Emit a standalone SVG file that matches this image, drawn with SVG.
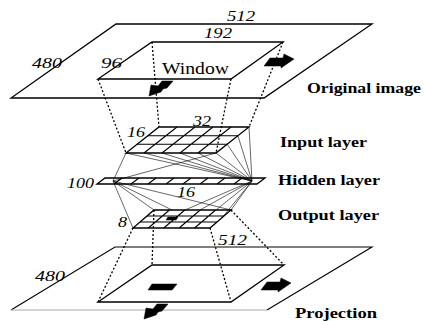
<svg xmlns="http://www.w3.org/2000/svg" width="424" height="321" viewBox="0 0 424 321">
<style>
.pl{fill:#fff;stroke:#000;stroke-width:1.3;stroke-linejoin:miter}
.gr{fill:none;stroke:#000;stroke-width:1.1}
.dot{fill:none;stroke:#000;stroke-width:1.3;stroke-dasharray:2 2}
.fan{fill:none;stroke:#000;stroke-width:0.6}
.blk{fill:#000;stroke:#000;stroke-width:0.5}
.num{font-family:"Liberation Serif",serif;font-style:italic;font-size:15px;fill:#000}
.lbl{font-family:"Liberation Serif",serif;font-weight:bold;font-size:15px;fill:#000}
.win{font-family:"Liberation Serif",serif;font-size:17px;fill:#000}
</style>
<defs>
<polygon id="arrR" points="264,66 270,58 283,58 284,54 294,59 281,68 281,66"/>
<polygon id="arrDL" points="173,81 162,81 158,86 151,85 149,96 161,92 163,89 167,88"/>
</defs>

<g id="original-image">
<polygon class="pl" points="116,24 372,24 264,98 11,98"/>
<text class="num" x="227" y="21" textLength="28" lengthAdjust="spacingAndGlyphs">512</text>
<text class="num" x="32" y="68" textLength="30" lengthAdjust="spacingAndGlyphs">480</text>
<text class="lbl" x="307" y="93" textLength="114" lengthAdjust="spacingAndGlyphs">Original image</text>
</g>

<g id="window">
<polygon class="pl" points="152,42 283,42 231,79 98,79"/>
<text class="num" x="204" y="38" textLength="28" lengthAdjust="spacingAndGlyphs">192</text>
<text class="num" x="101" y="68" textLength="21" lengthAdjust="spacingAndGlyphs">96</text>
<text class="win" x="162" y="74" textLength="67" lengthAdjust="spacingAndGlyphs">Window</text>
</g>

<g id="projection">
<polygon fill="#fff" stroke="none" points="115,247 372,247 267,310 11,310"/>
<polyline class="gr" stroke-width="1.3" points="11,310 115,247 372,247 267,310"/>
<line x1="11" y1="310" x2="267" y2="310" stroke="#aaa" stroke-width="1"/>
<text class="num" x="218" y="245" textLength="29" lengthAdjust="spacingAndGlyphs">512</text>
<text class="num" x="35" y="281" textLength="30" lengthAdjust="spacingAndGlyphs">480</text>
<text class="lbl" x="295" y="318" textLength="82" lengthAdjust="spacingAndGlyphs">Projection</text>
</g>

<g id="projection-window">
<polygon class="pl" points="152,265 284,265 231,302 98,302"/>
<polygon class="blk" points="152,284 177,284 172,290 148,290"/>
</g>

<g id="input-layer">
<polygon class="pl" points="159,127 249,127 216,153 126,153"/>
<path class="gr" d="M148,135.7 H238 M137,144.3 H227 M177,127 L144,153 M195,127 L162,153 M213,127 L180,153 M231,127 L198,153"/>
<text class="num" x="127" y="137" textLength="18" lengthAdjust="spacingAndGlyphs">16</text>
<text class="num" x="193" y="126" textLength="18" lengthAdjust="spacingAndGlyphs">32</text>
<text class="lbl" x="280" y="147" textLength="87" lengthAdjust="spacingAndGlyphs">Input layer</text>
</g>

<g id="hidden-layer">
<polygon class="pl" points="105,178 265,178 257,184 97,184"/>
<path class="gr" d="M122,178 L114,184 M139,178 L131,184 M156,178 L148,184 M174,178 L166,184 M191,178 L183,184 M208,178 L200,184 M225,178 L217,184 M242,178 L234,184"/>
<text class="num" x="67" y="188" textLength="27" lengthAdjust="spacingAndGlyphs">100</text>
<text class="lbl" x="278" y="185" textLength="102" lengthAdjust="spacingAndGlyphs">Hidden layer</text>
</g>

<g id="output-layer">
<polygon class="pl" points="154,210 231,210 210,228 133,228"/>
<path class="gr" d="M147,216 H224 M140,222 H217 M169.4,210 L148.4,228 M184.8,210 L163.8,228 M200.2,210 L179.2,228 M215.6,210 L194.6,228"/>
<polygon class="blk" points="168,217 178,217 176,220 166,220"/>
<text class="num" x="177" y="197" textLength="18" lengthAdjust="spacingAndGlyphs">16</text>
<text class="num" x="118" y="227" textLength="9" lengthAdjust="spacingAndGlyphs">8</text>
<text class="lbl" x="278" y="220" textLength="101" lengthAdjust="spacingAndGlyphs">Output layer</text>
</g>

<g id="connectors">
<path class="dot" d="M98,79 L126,153 M152,42 L159,127 M231,79 L216,153 M283,42 L249,127"/>
<path class="dot" d="M133,228 L98,302 M154,210 L152,265 M231,210 L284,265 M210,228 L231,302"/>
<path class="fan" d="M126,153 L252,181 M144,153 L252,181 M162,153 L252,181 M180,153 L252,181 M198,153 L252,181 M216,153 L252,181 M227,144 L252,181 M238,136 L252,181 M249,127 L252,181 M126,153 L113,181 M216,153 L113,181"/>
<path class="fan" d="M113,181 L133,228 M113,181 L154,210 M113,181 L172,210 M113,181 L231,210 M252,181 L185,210 M252,181 L200,210 M252,181 L216,210 M252,181 L231,210 M252,181 L221,219"/>
<use href="#arrR" class="blk"/>
<use href="#arrDL" class="blk"/>
<use href="#arrR" class="blk" transform="translate(-3,224)"/>
<use href="#arrDL" class="blk" transform="translate(-5,223)"/>
</g>
</svg>
